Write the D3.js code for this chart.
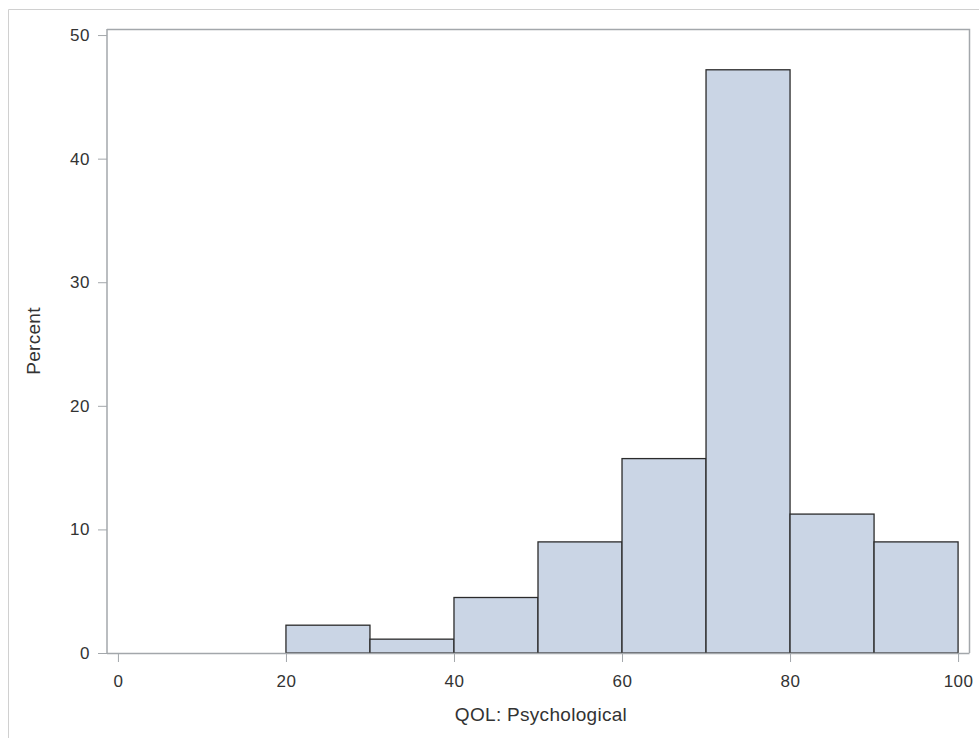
<!DOCTYPE html>
<html>
<head>
<meta charset="utf-8">
<script src="https://cdn.jsdelivr.net/npm/d3@7/dist/d3.min.js"></script>
<style>
  html, body { margin: 0; padding: 0; background: #fff; }
  svg { display: block; }
  text { font-family: "Liberation Sans", Arial, sans-serif; fill: #333; }
</style>
</head>
<body>
<svg id="chart" width="979" height="738"></svg>
<script>
// Histogram bins of QOL: Psychological (bin start, bin end, percent)
const binStarts = [20, 30, 40, 50, 60, 70, 80, 90];
const binEnds   = [30, 40, 50, 60, 70, 80, 90, 100];
const percents  = [2.25, 1.12, 4.49, 8.99, 15.73, 47.19, 11.24, 8.99];
const xTicks = [0, 20, 40, 60, 80, 100];
const yTicks = [0, 10, 20, 30, 40, 50];
const xLabel = "QOL: Psychological";
const yLabel = "Percent";

const svg = d3.select("#chart");
const plot = { left: 107, top: 29, right: 969, bottom: 653 };

const x = d3.scaleLinear().domain([-1.3, 101.3]).range([plot.left, plot.right]);
const y = d3.scaleLinear().domain([0, 50.49]).range([plot.bottom, plot.top]);

const axisColor = "#a3a7ab";

// outer graph frame
svg.append("path")
  .attr("d", "M8.5,738 V9.5 H979")
  .attr("fill", "none")
  .attr("stroke", "#d0d0d0")
  .attr("stroke-width", 1);

// bars
const bins = binStarts.map((s, i) => ({ x0: s, x1: binEnds[i], v: percents[i] }));
svg.append("g")
  .selectAll("rect")
  .data(bins)
  .join("rect")
  .attr("x", d => x(d.x0))
  .attr("y", d => y(d.v))
  .attr("width", d => x(d.x1) - x(d.x0))
  .attr("height", d => y(0) - y(d.v))
  .attr("fill", "#cad5e5")
  .attr("stroke", "#2b2b2b")
  .attr("stroke-width", 1.3);

// plot frame (top and right)
svg.append("path")
  .attr("d", `M${plot.left},${plot.top + 0.5} H${plot.right + 0.5} V${plot.bottom}`)
  .attr("fill", "none")
  .attr("stroke", axisColor)
  .attr("stroke-width", 1.5);

// x axis
const xAxis = svg.append("g")
  .attr("transform", `translate(0,${plot.bottom})`)
  .call(d3.axisBottom(x).tickValues(xTicks).tickSize(9).tickPadding(13).tickFormat(d3.format("d")));
xAxis.select(".domain").attr("stroke", axisColor).attr("stroke-width", 1.5)
  .attr("d", `M${plot.left},0.5H${plot.right + 0.5}`);
xAxis.selectAll(".tick line").attr("stroke", axisColor);
xAxis.selectAll(".tick text")
  .style("font-size", "17px").style("letter-spacing", "0.5px")
  .attr("fill", "#333");

// y axis
const yAxis = svg.append("g")
  .attr("transform", `translate(${plot.left},0)`)
  .call(d3.axisLeft(y).tickValues(yTicks).tickSize(9).tickPadding(8).tickFormat(d3.format("d")));
yAxis.select(".domain").attr("stroke", axisColor).attr("stroke-width", 1.5)
  .attr("d", `M0,${plot.top}V${plot.bottom + 0.5}`);
yAxis.selectAll(".tick line").attr("stroke", axisColor);
yAxis.selectAll(".tick text")
  .style("font-size", "17px").style("letter-spacing", "0.5px")
  .attr("fill", "#333");

// axis titles
svg.append("text")
  .attr("x", (plot.left + plot.right) / 2 + 3)
  .attr("y", 721)
  .attr("text-anchor", "middle")
  .style("font-size", "19px")
  .style("letter-spacing", "0.3px")
  .text(xLabel);

svg.append("text")
  .attr("transform", `translate(40,${(plot.top + plot.bottom) / 2}) rotate(-90)`)
  .attr("text-anchor", "middle")
  .style("font-size", "19px")
  .style("letter-spacing", "0.3px")
  .text(yLabel);
</script>
</body>
</html>
